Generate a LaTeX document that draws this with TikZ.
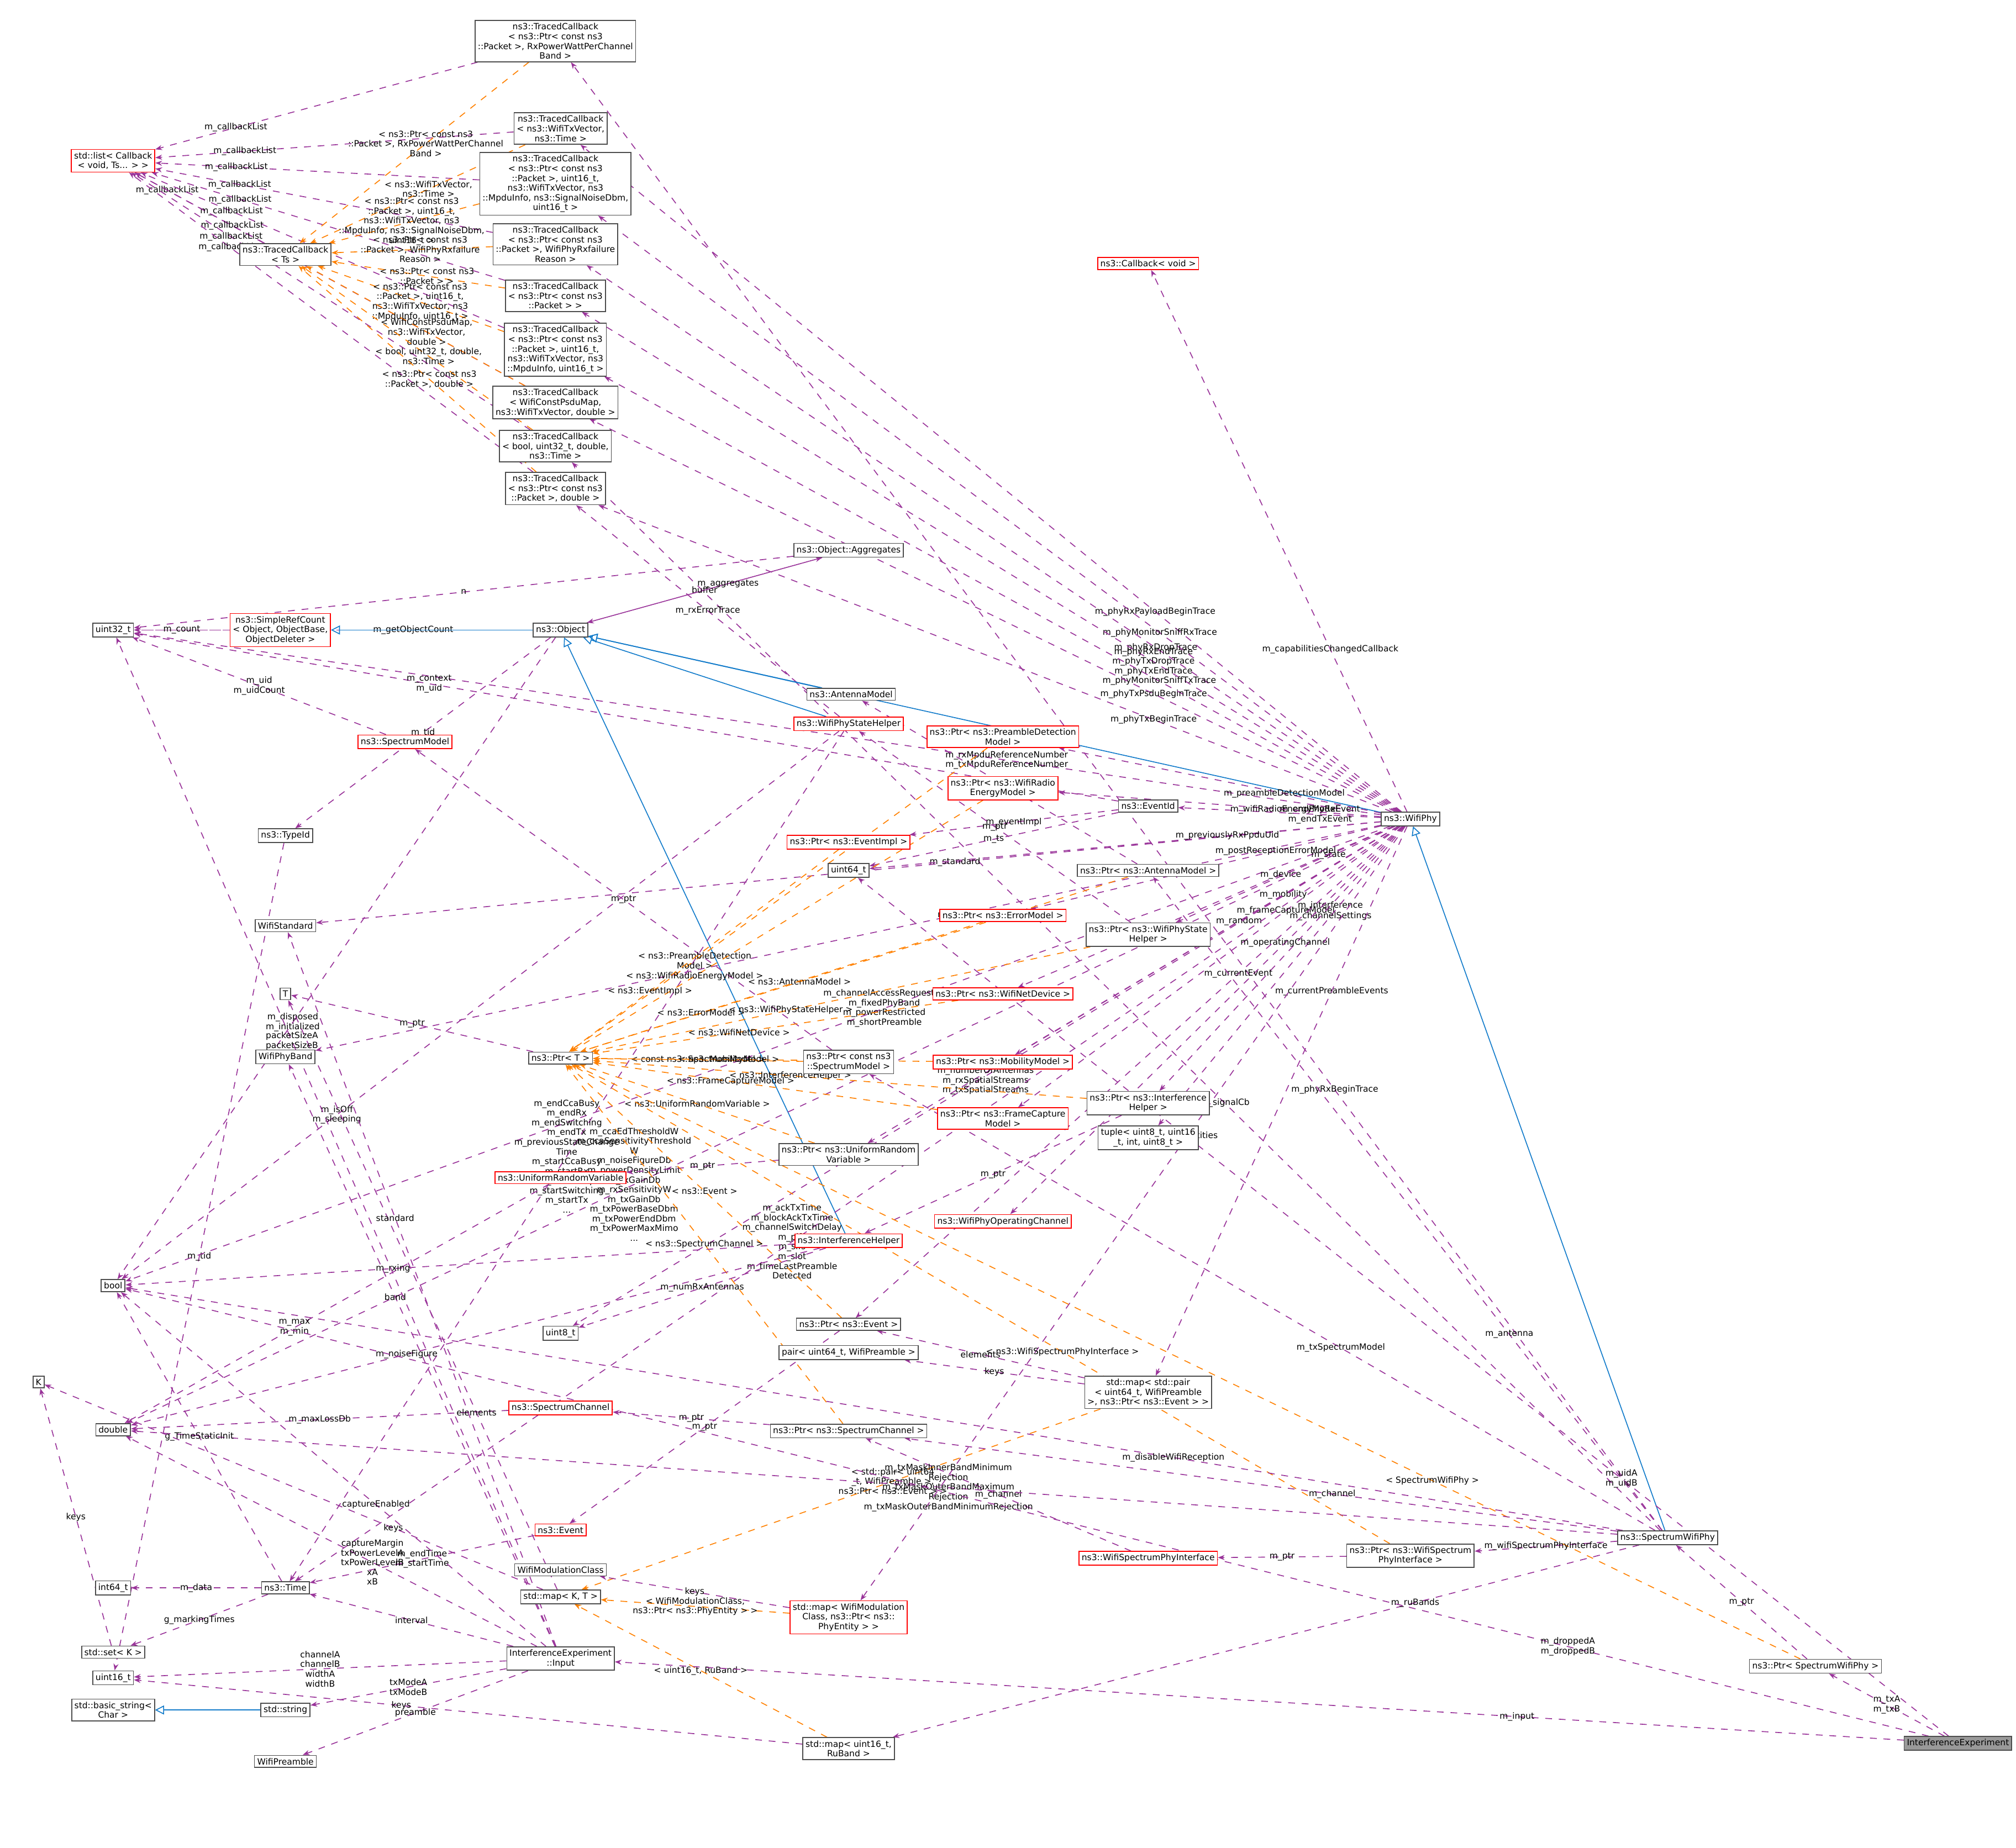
\documentclass[tikz,border=0pt]{standalone}
\usepackage{fontspec}
\setmainfont{DejaVu Sans}
\usetikzlibrary{arrows.meta,backgrounds}
\tikzset{
  box/.style={draw=black!70,fill=white,align=center,font=\fontsize{3.8}{4.3}\selectfont,inner sep=1.2pt},
  redbox/.style={box,draw=red},
  mem/.style={draw=violet!80,dashed,-{Stealth[length=3pt]}},
  tmpl/.style={draw=orange,dashed,-{Stealth[length=3pt]}},
  inh/.style={draw=cyan!60!blue,-{Triangle[open,length=4pt,width=4pt]}},
  lbl/.style={font=\fontsize{3.8}{4.3}\selectfont,align=center,inner sep=0.3pt},
}
\newcommand{\mem}[4][0.5]{\draw[mem] (#2) -- node[lbl,pos=#1]{#4} (#3);}
\newcommand{\tpl}[4][0.5]{\draw[tmpl] (#2) -- node[lbl,pos=#1]{#4} (#3);}
\begin{document}
\begin{tikzpicture}[x=0.02cm,y=-0.02cm]
\useasboundingbox (0,0) rectangle (1568,1437);

% traced callbacks
\node[redbox] (stdlist) at (88,125) {std::list< Callback\\< void, Ts... > >};
\node[box] (tcts) at (222,198) {ns3::TracedCallback\\< Ts >};
\node[box] (tc1) at (432,32) {ns3::TracedCallback\\< ns3::Ptr< const ns3\\::Packet >, RxPowerWattPerChannel\\Band >};
\node[box] (tc2) at (436,100) {ns3::TracedCallback\\< ns3::WifiTxVector,\\ns3::Time >};
\node[box] (tc3) at (432,143) {ns3::TracedCallback\\< ns3::Ptr< const ns3\\::Packet >, uint16\_t,\\ns3::WifiTxVector, ns3\\::MpduInfo, ns3::SignalNoiseDbm,\\uint16\_t >};
\node[box] (tc4) at (432,190) {ns3::TracedCallback\\< ns3::Ptr< const ns3\\::Packet >, WifiPhyRxfailure\\Reason >};
\node[box] (tc5) at (432,230) {ns3::TracedCallback\\< ns3::Ptr< const ns3\\::Packet > >};
\node[box] (tc6) at (432,272) {ns3::TracedCallback\\< ns3::Ptr< const ns3\\::Packet >, uint16\_t,\\ns3::WifiTxVector, ns3\\::MpduInfo, uint16\_t >};
\node[box] (tc7) at (432,313) {ns3::TracedCallback\\< WifiConstPsduMap,\\ns3::WifiTxVector, double >};
\node[box] (tc8) at (432,347) {ns3::TracedCallback\\< bool, uint32\_t, double,\\ns3::Time >};
\node[box] (tc9) at (432,380) {ns3::TracedCallback\\< ns3::Ptr< const ns3\\::Packet >, double >};
\node[redbox] (cbvoid) at (893,205) {ns3::Callback< void >};

% objects
\node[box] (aggregates) at (660,428) {ns3::Object::Aggregates};
\node[box] (uint32) at (88,490) {uint32\_t};
\node[redbox] (refcount) at (218,490) {ns3::SimpleRefCount\\< Object, ObjectBase,\\ObjectDeleter >};
\node[box] (object) at (436,490) {ns3::Object};
\node[box] (antenna) at (662,540) {ns3::AntennaModel};
\node[redbox] (specmodel) at (315,577) {ns3::SpectrumModel};
\node[redbox] (statehelper) at (660,563) {ns3::WifiPhyStateHelper};
\node[box] (typeid) at (222,650) {ns3::TypeId};
\node[redbox] (ptrpreamble) at (780,573) {ns3::Ptr< ns3::PreambleDetection\\Model >};
\node[redbox] (ptrenergy) at (780,613) {ns3::Ptr< ns3::WifiRadio\\EnergyModel >};
\node[box] (eventid) at (893,627) {ns3::EventId};
\node[redbox] (ptreventimpl) at (660,655) {ns3::Ptr< ns3::EventImpl >};
\node[box] (uint64) at (660,677) {uint64\_t};
\node[box] (ptrantenna) at (893,677) {ns3::Ptr< ns3::AntennaModel >};
\node[redbox] (ptrerror) at (780,712) {ns3::Ptr< ns3::ErrorModel >};
\node[box] (ptrstate) at (893,727) {ns3::Ptr< ns3::WifiPhyState\\Helper >};
\node[box] (wifistandard) at (222,720) {WifiStandard};
\node[box] (T) at (222,773) {T};
\node[redbox] (ptrnetdev) at (780,773) {ns3::Ptr< ns3::WifiNetDevice >};
\node[box] (ptrT) at (436,823) {ns3::Ptr< T >};
\node[box] (ptrconstspec) at (660,826) {ns3::Ptr< const ns3\\::SpectrumModel >};
\node[redbox] (ptrmobility) at (780,826) {ns3::Ptr< ns3::MobilityModel >};
\node[box] (phyband) at (222,822) {WifiPhyBand};
\node[box] (ptrinterf) at (893,858) {ns3::Ptr< ns3::Interference\\Helper >};
\node[redbox] (ptrframecap) at (780,870) {ns3::Ptr< ns3::FrameCapture\\Model >};
\node[box] (tuple) at (893,885) {tuple< uint8\_t, uint16\\\_t, int, uint8\_t >};
\node[redbox] (uniformrv) at (436,916) {ns3::UniformRandomVariable};
\node[box] (ptruniform) at (660,898) {ns3::Ptr< ns3::UniformRandom\\Variable >};
\node[redbox] (opchannel) at (780,950) {ns3::WifiPhyOperatingChannel};
\node[redbox] (interfhelper) at (660,965) {ns3::InterferenceHelper};
\node[box] (wifiphy) at (1097,637) {ns3::WifiPhy};
\node[box] (bool) at (88,1000) {bool};
\node[box] (K) at (30,1075) {K};
\node[box] (uint8) at (436,1037) {uint8\_t};
\node[box] (ptrevent) at (660,1030) {ns3::Ptr< ns3::Event >};
\node[box] (pair) at (660,1052) {pair< uint64\_t, WifiPreamble >};
\node[box] (mappair) at (893,1083) {std::map< std::pair\\< uint64\_t, WifiPreamble\\>, ns3::Ptr< ns3::Event > >};
\node[box] (double) at (88,1112) {double};
\node[redbox] (specchannel) at (436,1095) {ns3::SpectrumChannel};
\node[box] (ptrspecchannel) at (660,1113) {ns3::Ptr< ns3::SpectrumChannel >};
\node[redbox] (event) at (436,1190) {ns3::Event};
\node[redbox] (wifispi) at (893,1212) {ns3::WifiSpectrumPhyInterface};
\node[box] (ptrwifispi) at (1097,1210) {ns3::Ptr< ns3::WifiSpectrum\\PhyInterface >};
\node[box] (specwifiphy) at (1297,1196) {ns3::SpectrumWifiPhy};
\node[box] (modclass) at (436,1221) {WifiModulationClass};
\node[box] (int64) at (88,1235) {int64\_t};
\node[box] (time) at (222,1235) {ns3::Time};
\node[box] (mapKT) at (436,1242) {std::map< K, T >};
\node[redbox] (mapmod) at (660,1258) {std::map< WifiModulation\\Class, ns3::Ptr< ns3::\\PhyEntity > >};
\node[box] (set) at (88,1285) {std::set< K >};
\node[box] (uint16) at (88,1305) {uint16\_t};
\node[box] (input) at (436,1290) {InterferenceExperiment\\::Input};
\node[box] (basicstr) at (88,1330) {std::basic\_string<\\Char >};
\node[box] (string) at (222,1330) {std::string};
\node[box] (preamble) at (222,1370) {WifiPreamble};
\node[box] (mapru) at (660,1360) {std::map< uint16\_t,\\RuBand >};
\node[box] (ptrswp) at (1412,1296) {ns3::Ptr< SpectrumWifiPhy >};
\node[box,fill=black!40,anchor=east] (ie) at (1565,1356) {InterferenceExperiment};

\begin{pgfonlayer}{background}
% callback lists
\foreach \n in {tcts,tc1,tc2,tc3,tc4,tc5,tc6,tc7,tc8,tc9}
  \draw[mem] (\n) -- node[lbl,pos=0.75]{m\_callbackList} (stdlist);
\tpl[0.45]{tc1}{tcts}{< ns3::Ptr< const ns3\\::Packet >, RxPowerWattPerChannel\\Band >}
\tpl[0.45]{tc2}{tcts}{< ns3::WifiTxVector,\\ns3::Time >}
\tpl[0.45]{tc3}{tcts}{< ns3::Ptr< const ns3\\::Packet >, uint16\_t,\\ns3::WifiTxVector, ns3\\::MpduInfo, ns3::SignalNoiseDbm,\\uint16\_t >}
\tpl[0.45]{tc4}{tcts}{< ns3::Ptr< const ns3\\::Packet >, WifiPhyRxfailure\\Reason >}
\tpl[0.45]{tc5}{tcts}{< ns3::Ptr< const ns3\\::Packet > >}
\tpl[0.45]{tc6}{tcts}{< ns3::Ptr< const ns3\\::Packet >, uint16\_t,\\ns3::WifiTxVector, ns3\\::MpduInfo, uint16\_t >}
\tpl[0.45]{tc7}{tcts}{< WifiConstPsduMap,\\ns3::WifiTxVector,\\double >}
\tpl[0.45]{tc8}{tcts}{< bool, uint32\_t, double,\\ns3::Time >}
\tpl[0.45]{tc9}{tcts}{< ns3::Ptr< const ns3\\::Packet >, double >}

% wifiphy traces
\mem[0.3]{specwifiphy}{tc1}{m\_phyRxBeginTrace}
\mem[0.3]{wifiphy}{tc2}{m\_phyRxPayloadBeginTrace}
\mem[0.3]{wifiphy}{tc3}{m\_phyMonitorSniffRxTrace}
\mem[0.3]{wifiphy}{tc4}{m\_phyRxDropTrace}
\mem[0.3]{wifiphy}{tc5}{m\_phyRxEndTrace\\m\_phyTxDropTrace\\m\_phyTxEndTrace}
\mem[0.3]{wifiphy}{tc6}{m\_phyMonitorSniffTxTrace}
\mem[0.3]{wifiphy}{tc7}{m\_phyTxPsduBeginTrace}
\mem[0.4]{specwifiphy}{tc8}{m\_signalCb}
\mem[0.3]{wifiphy}{tc9}{m\_phyTxBeginTrace}
\mem[0.3]{wifiphy}{cbvoid}{m\_capabilitiesChangedCallback}
\mem{statehelper}{tc9}{m\_rxErrorTrace}

% object
\mem[0.3]{wifiphy}{uint32}{m\_rxMpduReferenceNumber\\m\_txMpduReferenceNumber}
\mem{aggregates}{uint32}{n}
\mem{aggregates}{object}{buffer}
\mem[0.6]{object}{aggregates}{m\_aggregates}
\mem[0.3]{object}{uint32}{m\_getObjectCount}
\mem{refcount}{uint32}{m\_count}
\mem[0.6]{object}{bool}{m\_disposed\\m\_initialized}
\mem{specmodel}{uint32}{m\_uid\\m\_uidCount}
\mem{object}{typeid}{m\_tid}
\mem{typeid}{uint16}{m\_tid}
\draw[inh] (object) -- (refcount);
\draw[inh] (antenna) -- (object);
\draw[inh] (statehelper) -- (object);
\draw[inh] (wifiphy) -- (object);
\draw[inh] (interfhelper) -- (object);
\draw[inh] (specwifiphy) -- (wifiphy);
\draw[inh] (string) -- (basicstr);

% wifiphy members
\mem[0.4]{wifiphy}{bool}{m\_channelAccessRequested\\m\_fixedPhyBand\\m\_powerRestricted\\m\_shortPreamble}
\mem[0.4]{wifiphy}{wifistandard}{m\_standard}
\mem[0.4]{wifiphy}{phyband}{m\_band}
\mem[0.7]{statehelper}{bool}{m\_isOff\\m\_sleeping}
\mem[0.5]{statehelper}{time}{m\_endCcaBusy\\m\_endRx\\m\_endSwitching\\m\_endTx\\m\_previousStateChange\\Time\\m\_startCcaBusy\\m\_startRx\\m\_startSleep\\m\_startSwitching\\m\_startTx\\...}
\mem{eventid}{ptreventimpl}{m\_eventImpl}
\mem{eventid}{uint64}{m\_ts}
\mem[0.7]{eventid}{uint32}{m\_context\\m\_uid}
\mem[0.3]{wifiphy}{eventid}{m\_endPhyRxEvent\\m\_endTxEvent}
\mem[0.3]{wifiphy}{uint64}{m\_previouslyRxPpduUid}
\mem[0.3]{wifiphy}{ptrpreamble}{m\_preambleDetectionModel}
\mem[0.3]{wifiphy}{ptrenergy}{m\_wifiRadioEnergyModel}
\mem[0.3]{wifiphy}{ptrerror}{m\_postReceptionErrorModel}
\mem[0.3]{wifiphy}{ptrstate}{m\_state}
\mem[0.3]{wifiphy}{ptrnetdev}{m\_device}
\mem[0.3]{wifiphy}{ptrmobility}{m\_mobility}
\mem[0.3]{wifiphy}{ptrframecap}{m\_frameCaptureModel}
\mem[0.3]{wifiphy}{ptrinterf}{m\_interference}
\mem[0.3]{wifiphy}{tuple}{m\_channelSettings}
\mem[0.3]{wifiphy}{ptruniform}{m\_random}
\mem[0.3]{wifiphy}{opchannel}{m\_operatingChannel}
\mem[0.3]{wifiphy}{ptrevent}{m\_currentEvent}
\mem[0.3]{wifiphy}{mappair}{m\_currentPreambleEvents}
\mem[0.6]{wifiphy}{double}{m\_ccaEdThresholdW\\m\_ccaSensitivityThreshold\\W\\m\_noiseFigureDb\\m\_powerDensityLimit\\m\_rxGainDb\\m\_rxSensitivityW\\m\_txGainDb\\m\_txPowerBaseDbm\\m\_txPowerEndDbm\\m\_txPowerMaxMimo\\...}
\mem[0.5]{wifiphy}{uint8}{m\_nTxPower\\m\_numberOfAntennas\\m\_rxSpatialStreams\\m\_txSpatialStreams}
\mem[0.55]{wifiphy}{time}{m\_ackTxTime\\m\_blockAckTxTime\\m\_channelSwitchDelay\\m\_pifs\\m\_sifs\\m\_slot\\m\_timeLastPreamble\\Detected}
\mem[0.4]{wifiphy}{mapmod}{m\_phyEntities}

% pointers
\mem{ptrstate}{statehelper}{m\_ptr}
\mem{ptrantenna}{antenna}{m\_ptr}
\mem{ptrinterf}{interfhelper}{m\_ptr}
\mem{ptruniform}{uniformrv}{m\_ptr}
\mem{ptrconstspec}{specmodel}{m\_ptr}
\mem{ptrevent}{event}{m\_ptr}
\mem{ptrspecchannel}{specchannel}{m\_ptr}
\mem{ptrwifispi}{wifispi}{m\_ptr}
\mem{ptrswp}{specwifiphy}{m\_ptr}
\mem{ptrT}{T}{m\_ptr}
\tpl[0.7]{ptrpreamble}{ptrT}{< ns3::PreambleDetection\\Model >}
\tpl[0.7]{ptrenergy}{ptrT}{< ns3::WifiRadioEnergyModel >}
\tpl[0.7]{ptreventimpl}{ptrT}{< ns3::EventImpl >}
\tpl[0.6]{ptrantenna}{ptrT}{< ns3::AntennaModel >}
\tpl[0.7]{ptrerror}{ptrT}{< ns3::ErrorModel >}
\tpl[0.6]{ptrstate}{ptrT}{< ns3::WifiPhyStateHelper >}
\tpl[0.6]{ptrnetdev}{ptrT}{< ns3::WifiNetDevice >}
\tpl[0.6]{ptrinterf}{ptrT}{< ns3::InterferenceHelper >}
\tpl[0.5]{ptrconstspec}{ptrT}{< const ns3::SpectrumModel >}
\tpl[0.6]{ptrmobility}{ptrT}{< ns3::MobilityModel >}
\tpl[0.6]{ptrframecap}{ptrT}{< ns3::FrameCaptureModel >}
\tpl[0.5]{ptruniform}{ptrT}{< ns3::UniformRandomVariable >}
\tpl[0.5]{ptrevent}{ptrT}{< ns3::Event >}
\tpl[0.5]{ptrspecchannel}{ptrT}{< ns3::SpectrumChannel >}
\tpl[0.4]{ptrwifispi}{ptrT}{< ns3::WifiSpectrumPhyInterface >}
\tpl[0.3]{ptrswp}{ptrT}{< SpectrumWifiPhy >}

% helpers and containers
\mem[0.6]{uniformrv}{double}{m\_max\\m\_min}
\mem[0.6]{interfhelper}{bool}{m\_rxing}
\mem[0.6]{interfhelper}{double}{m\_noiseFigure}
\mem{interfhelper}{uint8}{m\_numRxAntennas}
\mem{mappair}{ptrevent}{elements}
\mem{mappair}{pair}{keys}
\tpl[0.4]{mappair}{mapKT}{< std::pair< uint64\\\_t, WifiPreamble >,\\ns3::Ptr< ns3::Event > >}
\mem{specchannel}{double}{m\_maxLossDb}
\mem{wifispi}{ptrspecchannel}{m\_channel}
\mem{specwifiphy}{ptrwifispi}{m\_wifiSpectrumPhyInterface}
\mem[0.4]{specwifiphy}{ptrspecchannel}{m\_channel}
\mem[0.45]{specwifiphy}{double}{m\_txMaskInnerBandMinimum\\Rejection\\m\_txMaskOuterBandMaximum\\Rejection\\m\_txMaskOuterBandMinimumRejection}
\mem[0.3]{specwifiphy}{mapru}{m\_ruBands}
\mem[0.3]{specwifiphy}{ptrantenna}{m\_antenna}
\mem[0.4]{specwifiphy}{ptrconstspec}{m\_txSpectrumModel}
\mem[0.3]{specwifiphy}{bool}{m\_disableWifiReception}
\mem{event}{time}{m\_endTime\\m\_startTime}
\mem{time}{int64}{m\_data}
\mem{time}{set}{g\_markingTimes}
\mem{time}{bool}{g\_TimeStaticInit}
\mem{set}{K}{keys}
\mem[0.3]{mapKT}{K}{keys}
\mem[0.3]{mapKT}{T}{elements}
\mem[0.6]{mapru}{uint16}{keys}
\tpl{mapru}{mapKT}{< uint16\_t, RuBand >}
\tpl{mapmod}{mapKT}{< WifiModulationClass,\\ns3::Ptr< ns3::PhyEntity > >}
\mem{mapmod}{modclass}{keys}
\mem[0.4]{input}{double}{captureMargin\\txPowerLevelA\\txPowerLevelB\\xA\\xB}
\mem{input}{time}{interval}
\mem[0.4]{input}{bool}{captureEnabled}
\mem{input}{uint16}{channelA\\channelB\\widthA\\widthB}
\mem{input}{string}{txModeA\\txModeB}
\mem{input}{preamble}{preamble}
\mem[0.6]{input}{wifistandard}{standard}
\mem[0.6]{input}{phyband}{band}
\mem[0.6]{input}{uint32}{packetSizeA\\packetSizeB}
\mem[0.3]{ie}{input}{m\_input}
\mem{ie}{ptrswp}{m\_txA\\m\_txB}
\mem[0.2]{ie}{bool}{m\_droppedA\\m\_droppedB}
\mem[0.3]{ie}{uint64}{m\_uidA\\m\_uidB}
\end{pgfonlayer}
\end{tikzpicture}
\end{document}
